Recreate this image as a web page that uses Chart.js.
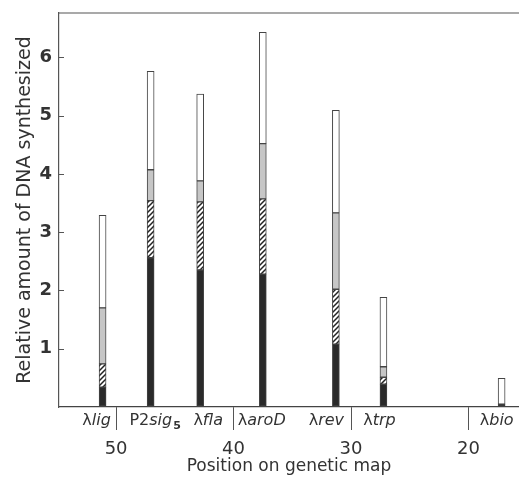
<!DOCTYPE html>
<html>
<head>
<meta charset="utf-8">
<script src="https://cdn.jsdelivr.net/npm/chart.js@4/dist/chart.umd.min.js"></script>
<style>
  body { margin: 0; background: #fff; }
</style>
</head>
<body>
<canvas id="myChart" width="519" height="477"></canvas>
<script>
// bars sit at their map position (x), stacked in 4 shades
const mapPos = [51.15, 47.06, 42.84, 37.51, 31.29, 27.24, 17.18];
const solidPart = [0.34, 2.56, 2.35, 2.28, 1.08, 0.39, 0.05];
const hatchPart = [0.40, 0.98, 1.17, 1.29, 0.94, 0.12, 0];
const greyPart = [0.96, 0.53, 0.36, 0.95, 1.31, 0.18, 0];
const whitePart = [1.59, 1.69, 1.49, 1.91, 1.76, 1.19, 0.44];

// gene labels under the axis
const genePrefix = ['λ', 'P2', 'λ', 'λ', 'λ', 'λ', 'λ'];
const geneName = ['lig', 'sig', 'fla', 'aroD', 'rev', 'trp', 'bio'];
const geneSub = ['', '5', '', '', '', '', ''];
const geneLabelPos = [51.66, 46.68, 42.16, 37.6, 32.1, 27.58, 17.6];

const mapTicks = [50, 40, 30, 20];

const FONT = '"DejaVu Sans", "Liberation Sans", sans-serif';
const INK = '#333';

function hatchPattern(ctx) {
    let c = document.createElement('canvas');
    c.width = 5;
    c.height = 5;
    let p = c.getContext('2d');
    p.fillStyle = '#fff';
    p.fillRect(0, 0, 5, 5);
    p.strokeStyle = '#222';
    p.lineWidth = 1.5;
    p.beginPath();
    p.moveTo(0, 5);
    p.lineTo(5, 0);
    p.moveTo(-1, 1);
    p.lineTo(1, -1);
    p.moveTo(4, 6);
    p.lineTo(6, 4);
    p.stroke();
    return ctx.createPattern(c, 'repeat');
}

function pts(vals) {
    return vals.map((v, i) => ({ x: mapPos[i], y: v }));
}

const frameAndLabels = {
    id: 'frameAndLabels',
    afterDraw(chart) {
        const ctx = chart.ctx;
        const area = chart.chartArea;
        const xs = chart.scales.x;
        const ys = chart.scales.y;
        ctx.save();
        // top frame line
        ctx.strokeStyle = '#555';
        ctx.lineWidth = 1.2;
        ctx.beginPath();
        ctx.moveTo(area.left, area.top);
        ctx.lineTo(area.right, area.top);
        ctx.stroke();
        // small inside ticks on y axis
        ctx.lineWidth = 1;
        ys.ticks.forEach(t => {
            if (t.value === 0) return;
            let y = Math.round(ys.getPixelForValue(t.value)) + 0.5;
            ctx.beginPath();
            ctx.moveTo(area.left, y);
            ctx.lineTo(area.left + 5, y);
            ctx.stroke();
        });
        // gene names
        ctx.fillStyle = INK;
        ctx.textBaseline = 'middle';
        ctx.textAlign = 'left';
        const y = area.bottom + 14;
        const fNorm = '16px ' + FONT;
        const fIt = 'italic 16px ' + FONT;
        const fSub = 'bold 11px ' + FONT;
        for (let i = 0; i < geneName.length; i++) {
            ctx.font = fNorm;
            let w1 = ctx.measureText(genePrefix[i]).width;
            ctx.font = fIt;
            let w2 = ctx.measureText(geneName[i]).width;
            ctx.font = fSub;
            let w3 = geneSub[i] ? ctx.measureText(geneSub[i]).width + 1 : 0;
            let x = xs.getPixelForValue(geneLabelPos[i]) - (w1 + w2 + w3) / 2;
            ctx.font = fNorm;
            ctx.fillText(genePrefix[i], x, y);
            ctx.font = fIt;
            ctx.fillText(geneName[i], x + w1, y);
            if (geneSub[i]) {
                ctx.font = fSub;
                ctx.fillText(geneSub[i], x + w1 + w2 + 1, y + 5);
            }
        }
        ctx.restore();
    }
};

function drawChart() {
    let ctx = document.getElementById('myChart').getContext('2d');
    const common = {
        barThickness: 7,
        borderWidth: 1,
        borderColor: '#444',
        borderSkipped: false
    };
    new Chart(ctx, {
        type: 'bar',
        data: {
            datasets: [
                Object.assign({ label: 'solid', data: pts(solidPart), backgroundColor: '#2a2a2a' }, common),
                Object.assign({ label: 'hatched', data: pts(hatchPart), backgroundColor: hatchPattern(ctx) }, common),
                Object.assign({ label: 'grey', data: pts(greyPart), backgroundColor: '#c6c6c6' }, common),
                Object.assign({ label: 'white', data: pts(whitePart), backgroundColor: '#fff' }, common)
            ]
        },
        options: {
            responsive: false,
            animation: false,
            layout: { padding: { left: 16, right: 0, top: 13, bottom: 0 } },
            plugins: {
                legend: { display: false },
                tooltip: { enabled: false }
            },
            scales: {
                x: {
                    type: 'linear',
                    reverse: true,
                    stacked: true,
                    offset: false,
                    min: 15.7,
                    max: 54.86,
                    afterBuildTicks: (scale) => {
                        scale.ticks = mapTicks.map(v => ({ value: v }));
                    },
                    afterFit: (scale) => {
                        scale.height = 70;
                        scale.paddingLeft = 0;
                        scale.paddingRight = 0;
                    },
                    grid: {
                        offset: false,
                        drawOnChartArea: false,
                        tickLength: 23,
                        color: '#555',
                        lineWidth: 1
                    },
                    border: { display: true, color: '#444', width: 1.2 },
                    ticks: {
                        color: INK,
                        font: { family: FONT, size: 18, lineHeight: 1 },
                        padding: 10,
                        maxRotation: 0,
                        autoSkip: false
                    },
                    title: {
                        display: true,
                        text: 'Position on genetic map',
                        color: INK,
                        font: { family: FONT, size: 17, lineHeight: 1 },
                        padding: { top: 0, bottom: 2 }
                    }
                },
                y: {
                    stacked: true,
                    min: 0,
                    max: 6.76,
                    afterFit: (scale) => {
                        scale.width = 43;
                        scale.paddingTop = 0;
                        scale.paddingBottom = 0;
                    },
                    grid: { display: true, drawOnChartArea: false, drawTicks: false },
                    border: { display: true, color: '#555', width: 1.2 },
                    ticks: {
                        stepSize: 1,
                        includeBounds: false,
                        padding: 7,
                        color: INK,
                        font: { family: FONT, size: 18, weight: 'bold' },
                        callback: (v) => (v === 0 ? '' : v)
                    },
                    title: {
                        display: true,
                        text: 'Relative amount of DNA synthesized',
                        color: INK,
                        font: { family: FONT, size: 19, lineHeight: 1 },
                        padding: { top: 0, bottom: 0 }
                    }
                }
            }
        },
        plugins: [frameAndLabels]
    });
}

drawChart();
</script>
</body>
</html>
